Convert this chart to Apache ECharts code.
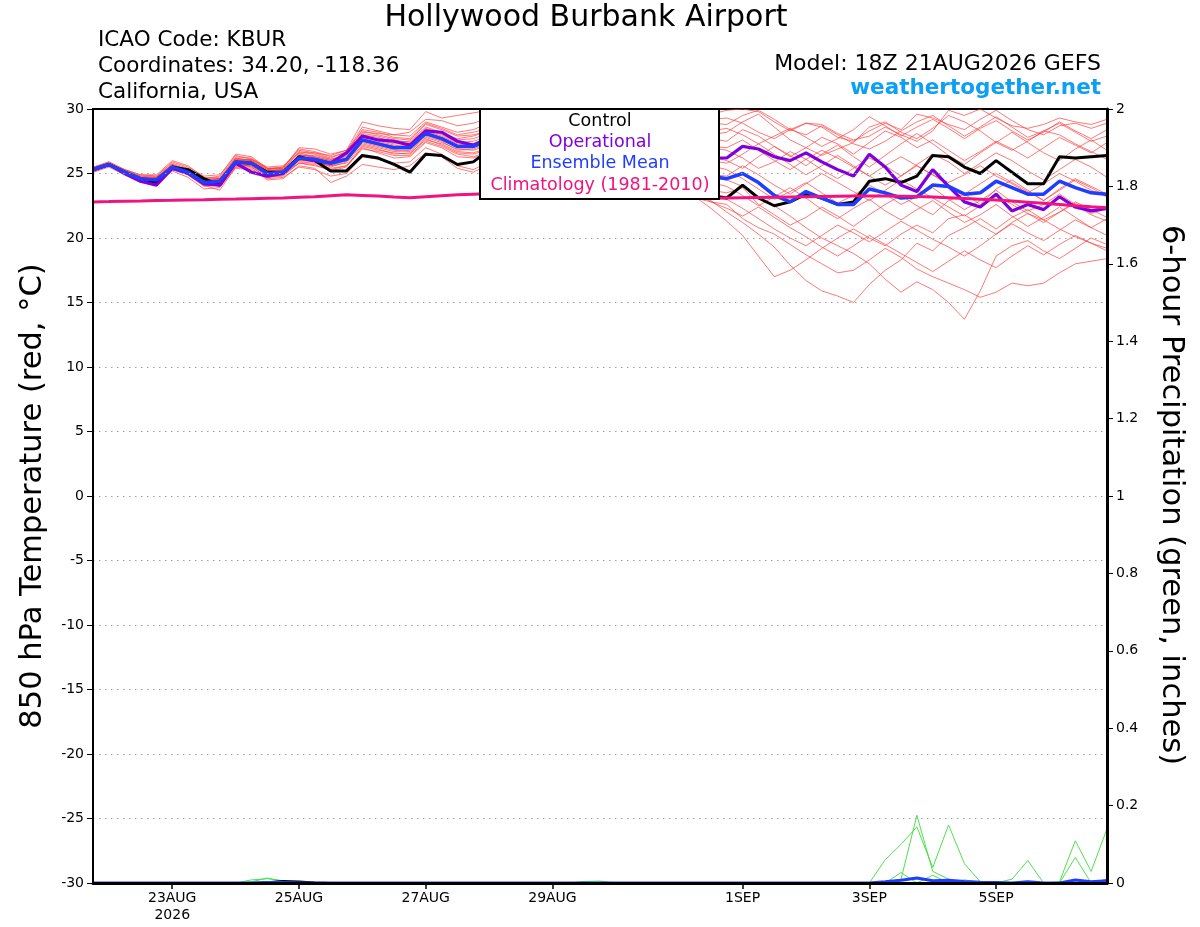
<!DOCTYPE html>
<html>
<head>
<meta charset="utf-8">
<script src="https://cdn.jsdelivr.net/npm/echarts@6.0.0/dist/echarts.min.js"></script>
<style>
html,body{margin:0;padding:0;background:#fff;}
#chart{width:1200px;height:927px;}
</style>
</head>
<body>
<div id="chart"></div>
<script>
// ---------- time categories (6-hourly, 18Z 21AUG2026 .. 18Z 06SEP2026) ----------
const startUTC = Date.UTC(2026, 7, 21, 18);
const categories = [];
for (let k = 0; k < 65; k++) {
  categories.push(new Date(startUTC + k * 6 * 3600 * 1000).toISOString().slice(0, 13) + 'Z');
}
const tickTimes  = ['2026-08-23T00Z','2026-08-25T00Z','2026-08-27T00Z','2026-08-29T00Z','2026-09-01T00Z','2026-09-03T00Z','2026-09-05T00Z'];
const tickLabels = ['23AUG\n2026','25AUG','27AUG','29AUG','1SEP','3SEP','5SEP'];

// ---------- 850 hPa temperature (deg C) ----------
const controlT = [25.3,25.7,25.1,24.6,24.3,25.5,25.3,24.6,24.1,25.9,25.8,25.1,25.1,
  26.3,26.0,25.2,25.2,26.4,26.2,25.7,25.1,26.5,26.4,25.7,25.9,
  26.8,27.0,26.3,26.0,26.6,26.7,26.0,25.5,25.8,25.2,24.8,24.2,24.3,23.8,23.3,
  23.1,24.1,23.1,22.5,22.8,23.4,23.1,22.6,22.8,24.4,24.6,24.3,24.8,26.4,26.3,25.5,25.0,26.0,25.1,24.2,24.2,26.3,26.2,26.3,26.4];
const operationalT = [25.3,25.7,25.0,24.4,24.1,25.4,25.0,24.2,24.1,25.8,25.1,24.8,25.0,
  26.2,26.0,25.8,26.6,27.9,27.6,27.5,27.2,28.3,28.2,27.5,27.2,
  27.8,28.2,27.6,27.2,27.9,28.0,27.4,27.2,27.6,27.3,26.9,26.6,26.8,26.5,26.2,
  26.2,27.1,26.9,26.3,26.0,26.6,25.9,25.3,24.8,26.5,25.5,24.1,23.6,25.3,24.0,22.8,22.4,23.4,22.1,22.6,22.2,23.2,22.4,22.1,22.3];
const ensMeanT = [25.3,25.7,25.1,24.6,24.5,25.5,25.1,24.3,24.4,25.9,25.8,25.0,25.1,
  26.2,26.1,25.8,26.1,27.6,27.3,27.0,27.0,28.1,27.7,27.1,27.1,
  27.6,27.9,27.4,27.0,27.5,27.6,27.0,26.6,26.8,26.6,26.0,25.6,25.7,25.3,24.8,
  24.6,25.0,24.3,23.3,22.8,23.6,23.1,22.6,22.6,23.8,23.5,23.1,23.2,24.1,24.0,23.4,23.5,24.4,23.9,23.4,23.4,24.4,23.9,23.5,23.4];
const climatologyT = [22.80,22.82,22.85,22.87,22.90,22.92,22.95,22.97,23.00,23.02,23.05,23.08,23.10,
  23.15,23.20,23.28,23.35,23.30,23.25,23.18,23.12,23.20,23.28,23.35,23.40,
  23.45,23.50,23.50,23.52,23.55,23.50,23.45,23.40,23.35,23.30,23.25,23.20,23.15,23.10,23.08,
  23.10,23.12,23.14,23.16,23.18,23.20,23.22,23.24,23.26,23.26,23.25,23.24,23.22,23.18,23.12,23.06,23.00,22.94,22.86,22.78,22.70,22.60,22.50,22.42,22.35];

const member01 = [25.4,25.9,25.3,24.8,24.8,25.8,25.4,24.6,24.7,26.3,26.2,25.4,25.5,
  26.8,26.6,26.2,26.7,28.6,28.3,28.0,27.9,29.0,28.6,28.2,28.4,
  28.9,29.3,28.8,28.4,29.0,29.4,28.9,28.5,29.1,29.5,29.0,28.7,29.3,29.8,29.6,
  29.9,30.0,29.8,29.0,28.3,28.9,28.6,27.8,27.5,28.3,28.9,28.4,29.6,29.3,28.8,28.4,29.2,29.9,29.1,28.4,28.0,28.7,28.9,28.5,28.9];
const member02 = [25.2,25.6,25.0,24.4,24.3,25.3,24.9,24.0,24.1,25.6,25.5,24.7,24.8,
  25.8,25.7,25.2,25.5,27.0,26.6,26.2,26.3,27.4,27.0,26.3,26.2,
  26.6,26.9,26.3,25.9,26.4,26.6,26.0,25.5,25.8,25.3,24.8,24.4,24.0,23.4,22.9,
  22.0,21.2,20.3,19.3,17.9,16.7,15.9,15.5,15.0,16.4,17.5,18.3,19.6,19.0,20.2,20.8,21.5,20.7,21.6,22.2,21.4,22.0,22.7,21.9,22.3];
const member03 = [25.3,25.8,25.2,24.7,24.6,25.6,25.2,24.4,24.5,26.0,25.9,25.2,25.3,
  26.4,26.3,26.0,26.4,28.0,27.8,27.4,27.5,28.6,28.2,27.6,27.7,
  28.1,28.4,27.8,27.5,28.0,28.3,27.7,27.3,27.9,28.2,27.6,27.4,27.9,28.3,28.0,
  28.2,29.0,29.6,28.6,27.6,27.0,26.4,26.9,27.4,28.6,29.0,28.2,27.7,28.5,29.5,29.0,28.3,27.4,26.8,27.5,28.3,28.0,27.3,26.7,26.1];
const member04 = [25.1,25.5,24.9,24.3,24.2,25.2,24.7,23.8,23.9,25.4,25.3,24.6,24.7,
  25.5,25.3,24.8,25.0,26.3,26.1,25.8,25.9,27.0,26.5,25.6,25.3,
  25.9,26.3,25.7,25.2,25.8,26.0,25.4,24.9,25.2,24.8,24.2,23.9,23.6,23.2,22.3,
  21.3,20.2,18.6,17.0,17.5,18.3,19.2,20.0,20.7,20.0,19.4,20.3,21.0,20.4,21.5,21.8,21.0,20.3,21.2,21.9,21.4,20.7,20.1,19.6,19.2];
const member05 = [25.5,25.9,25.3,24.9,24.9,26.0,25.6,24.7,24.6,26.1,26.0,25.3,25.4,
  27.0,26.9,26.5,26.8,29.0,28.7,28.5,28.4,29.8,29.3,29.5,29.7,
  29.9,29.7,29.2,28.8,29.4,29.8,29.1,28.6,29.0,29.3,28.8,28.5,29.0,29.4,29.2,
  29.3,28.9,28.2,27.7,28.4,28.9,28.8,28.1,27.6,27.9,28.6,28.0,27.5,28.3,29.9,29.5,30.0,29.3,28.7,28.5,28.8,29.3,29.0,28.8,29.2];
const member06 = [25.3,25.7,25.1,24.6,24.5,25.4,25.0,24.2,24.3,25.8,25.7,24.9,25.0,
  26.0,25.9,25.6,25.8,27.2,26.9,26.5,26.6,27.6,27.3,26.7,26.6,
  27.0,27.3,26.7,26.2,26.8,27.0,26.4,25.9,26.3,26.0,25.4,25.0,24.7,24.1,23.7,
  23.5,23.9,22.6,21.8,21.0,21.6,22.4,21.7,20.9,21.8,22.6,23.3,22.5,21.8,22.9,23.4,22.6,23.8,24.5,23.7,22.9,23.8,24.6,24.0,23.4];
const member07 = [25.2,25.6,25.1,24.7,24.6,25.7,25.3,24.5,24.6,26.0,26.1,25.5,25.6,
  26.6,26.6,26.4,26.8,28.3,28.0,27.7,27.6,28.8,28.4,27.9,28.0,
  28.3,28.6,28.0,27.6,28.1,28.5,27.9,27.5,27.9,28.2,27.7,27.2,27.7,28.0,27.7,
  27.5,28.4,27.9,27.1,26.3,27.0,27.8,27.3,26.5,27.4,28.3,27.8,27.0,27.6,26.8,26.0,26.7,27.5,26.9,26.2,27.0,27.8,27.2,26.6,27.4];
const member08 = [25.4,25.8,25.2,24.5,24.4,25.5,25.2,24.4,24.2,25.7,25.6,24.8,24.9,
  26.1,26.0,25.5,25.9,27.4,27.1,26.8,26.7,27.8,27.4,26.9,26.8,
  27.2,27.5,26.9,26.4,27.0,27.2,26.6,26.1,26.5,26.3,25.7,25.3,25.2,24.9,24.6,
  24.5,24.0,23.2,22.5,21.7,20.8,20.0,19.4,18.8,18.0,16.8,15.8,16.6,16.0,15.0,13.7,15.9,18.6,19.4,19.8,19.0,18.4,19.2,20.0,19.5];
const member09 = [25.3,25.7,25.0,24.5,24.7,25.7,25.2,24.3,24.5,26.2,26.0,25.1,25.0,
  26.5,26.2,25.9,26.2,27.8,27.6,27.3,27.3,28.4,28.0,27.4,27.5,
  27.9,28.2,27.6,27.2,27.7,28.0,27.4,26.9,27.3,27.6,27.0,26.6,27.1,27.4,27.0,
  26.8,26.2,25.4,25.9,26.7,26.1,25.3,24.6,25.4,26.2,25.6,24.8,25.7,26.5,25.9,25.0,25.8,26.6,26.0,25.2,24.5,25.3,26.1,25.5,24.7];
const member10 = [25.2,25.6,25.2,24.8,24.7,25.6,25.1,24.1,23.7,25.5,25.4,24.5,24.6,
  25.6,25.4,24.3,24.8,25.7,25.5,25.3,25.6,26.6,26.3,25.4,25.1,
  25.7,26.1,25.5,25.0,25.6,25.8,25.2,24.6,24.9,24.5,24.0,23.7,23.4,23.1,22.8,
  22.6,21.5,20.8,20.3,19.5,18.7,18.0,17.3,17.5,18.3,19.2,18.5,17.6,17.0,16.5,16.0,15.4,15.8,16.5,16.3,16.5,17.3,18.0,18.2,18.4];
const member11 = [25.4,25.8,25.1,24.6,24.4,25.4,25.3,24.6,24.8,26.5,26.3,25.4,25.3,
  26.7,26.5,26.1,26.5,28.2,28.1,28.0,28.2,29.2,29.1,28.7,28.9,
  29.3,29.6,29.0,28.6,29.2,29.5,28.9,28.4,28.8,29.1,28.6,28.2,28.7,29.0,28.9,
  28.8,29.5,29.9,29.2,28.4,28.0,28.7,28.0,27.3,26.9,27.5,28.3,29.0,29.5,28.7,27.9,28.6,29.4,28.6,27.8,28.3,28.9,28.2,27.5,27.9];
const member12 = [25.3,25.7,25.2,24.6,24.6,25.6,25.0,24.3,24.4,25.9,25.9,25.2,25.2,
  26.2,26.1,25.8,26.0,27.5,27.2,26.9,27.0,28.0,27.6,27.0,27.0,
  27.4,27.7,27.1,26.7,27.2,27.4,26.8,26.3,26.7,26.9,26.3,25.9,26.2,26.0,25.6,
  25.3,24.6,23.8,23.0,23.6,24.3,23.5,22.7,23.3,24.1,23.4,22.6,23.2,23.9,23.0,22.2,22.9,23.7,22.8,22.1,22.6,23.4,22.6,21.8,21.3];
const member13 = [25.2,25.7,25.3,24.9,24.8,25.9,25.5,24.8,24.9,26.4,26.1,25.3,25.5,
  26.9,26.7,26.3,26.6,28.4,28.2,27.8,27.7,28.9,28.5,28.0,28.2,
  28.5,28.8,28.2,27.8,28.3,28.6,28.0,27.5,27.8,27.9,27.3,26.9,27.0,26.7,26.3,
  26.0,25.4,26.3,27.1,26.4,25.6,26.5,27.2,26.3,25.5,26.4,27.3,28.1,27.3,26.4,25.7,26.6,27.4,28.2,27.4,26.6,26.0,26.9,27.6,26.8];
const member14 = [25.4,25.6,25.0,24.4,24.3,25.3,25.0,24.2,24.0,25.5,25.7,25.0,24.9,
  25.9,25.8,25.4,25.6,26.9,26.7,26.4,26.4,27.5,27.1,26.5,26.3,
  26.7,27.0,26.4,26.0,26.5,26.7,26.1,25.6,25.9,25.6,25.0,24.6,24.2,23.6,23.2,
  23.0,22.3,21.5,20.7,20.0,19.4,20.2,21.0,20.4,19.7,20.5,21.3,20.6,19.9,19.3,18.6,19.4,20.3,21.1,20.4,19.8,20.6,21.4,20.8,20.2];
const member15 = [25.3,25.8,25.1,24.5,24.5,25.5,25.2,24.5,24.6,26.0,25.6,24.9,25.1,
  26.3,26.2,25.9,26.2,27.7,27.4,27.1,27.1,28.2,27.8,27.2,27.3,
  27.7,28.0,27.4,27.0,27.5,27.8,27.2,26.8,27.2,27.5,27.0,26.7,27.2,27.4,27.1,
  27.0,27.6,26.8,26.0,25.3,26.1,26.8,26.2,25.5,24.8,25.6,26.3,25.6,24.9,24.3,24.9,25.6,24.8,24.2,23.5,24.2,25.0,24.4,23.7,23.2];
const member16 = [25.1,25.6,25.0,24.6,24.6,25.5,24.9,24.1,24.3,25.7,25.8,25.1,25.2,
  26.0,26.1,25.7,26.1,27.6,27.3,27.1,27.2,28.3,27.9,27.3,27.3,
  27.7,28.0,27.4,27.0,27.5,27.7,27.1,26.6,26.9,26.6,26.0,25.6,25.3,24.8,24.3,
  24.0,23.3,22.5,23.2,23.9,23.1,22.2,21.5,22.3,23.0,22.1,21.4,22.2,22.9,22.0,21.2,21.8,22.6,21.7,20.9,21.6,22.4,21.6,20.8,21.5];
const member17 = [25.5,25.8,25.2,24.7,24.5,25.4,25.1,24.4,24.6,26.2,26.0,25.2,25.3,
  26.4,26.4,26.1,26.3,27.9,27.5,27.2,27.0,28.1,27.6,27.1,27.2,
  27.6,27.9,27.3,26.9,27.4,27.7,27.1,26.6,27.0,27.2,26.6,26.3,26.6,26.3,26.0,
  25.8,26.5,27.3,26.5,25.7,24.9,25.6,26.4,25.6,24.8,24.1,24.8,25.6,24.9,24.1,23.4,24.2,25.0,24.3,23.6,22.9,23.7,24.5,23.9,23.2];
const member18 = [25.3,25.6,25.1,24.5,24.4,25.5,25.3,24.5,24.3,25.8,25.5,24.7,24.9,
  25.8,25.6,25.3,25.6,27.1,26.8,26.6,26.5,27.7,27.2,26.6,26.5,
  26.9,27.2,26.6,26.2,26.7,26.9,26.3,25.8,26.0,25.6,25.0,24.5,24.1,23.5,22.8,
  22.3,21.7,22.4,21.6,20.8,20.1,19.3,18.6,19.4,20.2,19.5,18.8,18.1,17.4,18.2,19.0,18.3,17.7,18.6,19.4,18.7,19.5,20.2,19.6,19.0];
const member19 = [25.2,25.7,25.2,24.7,24.7,25.7,25.2,24.2,24.2,25.9,26.1,25.4,25.4,
  26.6,26.3,26.0,26.5,28.1,27.9,27.6,27.4,28.5,28.1,27.7,27.9,
  28.3,28.6,28.0,27.6,28.1,28.4,27.8,27.4,27.9,28.3,27.8,27.5,28.1,28.5,28.3,
  28.5,28.0,27.3,27.9,28.5,27.8,27.1,27.7,28.4,29.4,28.7,27.9,28.6,29.2,28.5,27.7,28.5,29.1,28.3,27.6,28.2,29.0,28.3,27.7,28.4];
const member20 = [25.4,25.7,25.0,24.5,24.6,25.6,25.1,24.3,24.5,26.1,25.9,25.0,25.0,
  26.1,25.9,25.6,26.0,27.3,27.0,26.7,26.8,27.9,27.5,26.8,26.9,
  27.3,27.6,27.0,26.6,27.1,27.3,26.7,26.2,26.5,26.3,25.7,25.3,25.4,25.1,24.9,
  24.8,25.6,24.9,24.1,23.4,24.2,25.0,24.3,23.6,22.9,23.7,24.5,23.8,23.1,22.4,21.7,22.5,23.3,22.6,21.9,21.2,22.0,22.8,22.2,21.6];
const membersT = [member01,member02,member03,member04,member05,member06,member07,member08,member09,member10,
                  member11,member12,member13,member14,member15,member16,member17,member18,member19,member20];

// ---------- 6-hour precipitation (inches) ----------
const precipG1 = [0,0,0,0,0,0,0,0,0,0,0,0,0, 0,0,0,0,0,0,0,0,0,0,0,0,0, 0,0,0,0,0,0,0,0,0,0,0,0,0,
  0,0,0,0,0,0,0,0,0,0,0,0.06,0.10, 0.145,0.04,0.15,0.05,0.003,0,0,0,0,0,0,0,0];
const precipG2 = [0,0,0,0,0,0,0,0,0,0,0,0,0, 0,0,0,0,0,0,0,0,0,0,0,0,0, 0,0,0,0,0,0,0,0,0,0,0,0,0,
  0,0,0,0,0,0,0,0,0,0,0,0,0.01, 0.175,0.03,0.01,0,0,0,0,0,0,0,0,0,0];
const precipG3 = [0,0,0,0,0,0,0,0,0,0,0,0,0, 0,0,0,0,0,0,0,0,0,0,0,0,0, 0,0,0,0,0,0,0,0,0,0,0,0,0,
  0,0,0,0,0,0,0,0,0,0,0,0,0.027, 0,0.02,0,0.008,0.002,0,0,0,0,0,0,0,0];
const precipG4 = [0,0,0,0,0,0,0,0,0,0,0,0,0, 0,0,0,0,0,0,0,0,0,0,0,0,0, 0,0,0,0,0,0,0,0,0,0,0,0,0,
  0,0,0,0,0,0,0,0,0,0,0,0,0, 0,0,0,0,0,0,0.01,0.058,0,0.003,0.109,0.03,0.14];
const precipG5 = [0,0,0,0,0,0,0,0,0,0,0,0,0, 0,0,0,0,0,0,0,0,0,0,0,0,0, 0,0,0,0,0,0,0,0,0,0,0,0,0,
  0,0,0,0,0,0,0,0,0,0,0,0,0, 0,0,0,0,0,0,0,0,0,0,0.066,0,0.01];
const precipG6 = [0,0,0,0,0,0,0,0,0,0,0.008,0.011,0.006, 0,0,0,0,0,0,0,0,0,0,0,0,0, 0,0,0,0,0,0.004,0.005,0,0,0,0,0,0,
  0,0,0,0,0,0,0,0,0,0,0,0,0, 0,0,0,0,0,0,0,0,0,0,0,0,0];
const precipG7 = [0,0,0,0,0,0,0,0,0,0,0.003,0.013,0.004, 0,0,0,0,0,0,0,0,0,0,0,0,0, 0,0,0,0,0,0,0,0,0,0,0,0,0,
  0,0,0,0,0,0,0,0,0,0,0,0,0, 0,0,0,0,0,0,0,0,0,0,0,0,0];
const precipMembers = [precipG1,precipG2,precipG3,precipG4,precipG5,precipG6,precipG7];
const precipControl = [0,0,0,0,0,0,0,0,0,0,0,0.002,0.005, 0.004,0.001,0,0,0,0,0,0,0,0,0,0,0, 0,0,0,0,0,0,0,0,0,0,0,0,0,
  0,0,0,0,0,0,0,0,0,0,0,0,0, 0,0,0,0,0,0,0,0,0,0,0,0,0];
const precipMean = [0,0,0,0,0,0,0,0,0,0,0,0.001,0.001, 0,0,0,0,0,0,0,0,0,0,0,0,0, 0,0,0,0,0,0,0,0,0,0,0,0,0,
  0,0,0,0,0,0,0,0,0,0,0,0.003,0.007, 0.013,0.006,0.007,0.004,0.002,0.001,0,0.003,0,0,0.008,0.003,0.006];

// ---------- texts ----------
const titleText = 'Hollywood Burbank Airport';
const infoLeft = ['ICAO Code: KBUR', 'Coordinates: 34.20, -118.36', 'California, USA'];
const modelText = 'Model: 18Z 21AUG2026 GEFS';
const siteText = 'weathertogether.net';
const legendItems = [
  {name: 'Control', color: '#000000'},
  {name: 'Operational', color: '#8000dc'},
  {name: 'Ensemble Mean', color: '#1f3dff'},
  {name: 'Climatology (1981-2010)', color: '#f01480'}
];
const leftAxisName = '850 hPa Temperature (red, \u00B0C)';
const rightAxisName = '6-hour Precipitation (green, inches)';

// ---------- chart ----------
const FONT = '"DejaVu Sans", "Liberation Sans", sans-serif';
const chart = echarts.init(document.getElementById('chart'), null, {renderer: 'canvas'});

const series = [];
membersT.forEach((d, k) => series.push({
  name: 'member' + (k + 1), type: 'line', data: d, yAxisIndex: 0, symbol: 'none', silent: true, z: 2,
  lineStyle: {color: 'rgba(255,55,55,0.85)', width: 0.8}
}));
precipMembers.forEach((d, k) => series.push({
  name: 'precip' + (k + 1), type: 'line', data: d, yAxisIndex: 1, symbol: 'none', silent: true, z: 2,
  lineStyle: {color: '#3cdc3c', width: 0.9}
}));
series.push({name: 'precipControl', type: 'line', data: precipControl, yAxisIndex: 1, symbol: 'none', z: 3,
  lineStyle: {color: '#000', width: 2}});
series.push({name: 'precipMean', type: 'line', data: precipMean, yAxisIndex: 1, symbol: 'none', z: 4,
  lineStyle: {color: '#1f3dff', width: 3}});
series.push({name: 'Control', type: 'line', data: controlT, yAxisIndex: 0, symbol: 'none', z: 3,
  lineStyle: {color: '#000', width: 3}});
series.push({name: 'Operational', type: 'line', data: operationalT, yAxisIndex: 0, symbol: 'none', z: 4,
  lineStyle: {color: '#8000dc', width: 3.2}});
series.push({name: 'Ensemble Mean', type: 'line', data: ensMeanT, yAxisIndex: 0, symbol: 'none', z: 5,
  lineStyle: {color: '#1f3dff', width: 3.5}});
series.push({name: 'Climatology', type: 'line', data: climatologyT, yAxisIndex: 0, symbol: 'none', z: 6,
  lineStyle: {color: '#f01480', width: 3}});

const graphics = [
  {type: 'text', x: 586, y: 18, z: 100, style: {text: titleText, font: '30px ' + FONT, fill: '#000', textAlign: 'center', textVerticalAlign: 'middle'}},
  {type: 'text', x: 98, y: 40, z: 100, style: {text: infoLeft[0], font: '21.5px ' + FONT, fill: '#000', textAlign: 'left', textVerticalAlign: 'middle'}},
  {type: 'text', x: 98, y: 66, z: 100, style: {text: infoLeft[1], font: '21.5px ' + FONT, fill: '#000', textAlign: 'left', textVerticalAlign: 'middle'}},
  {type: 'text', x: 98, y: 92, z: 100, style: {text: infoLeft[2], font: '21.5px ' + FONT, fill: '#000', textAlign: 'left', textVerticalAlign: 'middle'}},
  {type: 'text', x: 1101, y: 64, z: 100, style: {text: modelText, font: '22px ' + FONT, fill: '#000', textAlign: 'right', textVerticalAlign: 'middle'}},
  {type: 'text', x: 1101, y: 88, z: 100, style: {text: siteText, font: 'bold 21.5px ' + FONT, fill: '#0c9ff2', textAlign: 'right', textVerticalAlign: 'middle'}},
  {type: 'text', x: 33, y: 496, rotation: Math.PI / 2, z: 100, style: {text: leftAxisName, font: '30.5px ' + FONT, fill: '#000', textAlign: 'center', textVerticalAlign: 'middle'}},
  {type: 'text', x: 1171, y: 495, rotation: -Math.PI / 2, z: 100, style: {text: rightAxisName, font: '30.5px ' + FONT, fill: '#000', textAlign: 'center', textVerticalAlign: 'middle'}},
  {type: 'rect', z: 100, shape: {x: 480, y: 109, width: 239, height: 90}, style: {fill: '#fff', stroke: '#000', lineWidth: 2}}
];
const legendY = [121, 142, 163, 185];
legendItems.forEach((it, k) => graphics.push({
  type: 'text', x: 600, y: legendY[k], z: 101,
  style: {text: it.name, font: '17.5px ' + FONT, fill: it.color, textAlign: 'center', textVerticalAlign: 'middle'}
}));

const option = {
  animation: false,
  backgroundColor: '#fff',
  grid: {left: 93, right: 93, top: 109, bottom: 44, show: true, borderColor: '#000', borderWidth: 2, containLabel: false},
  xAxis: {
    type: 'category', data: categories, boundaryGap: false, z: 8,
    axisLine: {onZero: false, lineStyle: {color: '#000', width: 3}},
    axisTick: {show: true, length: 6, lineStyle: {color: '#000', width: 1.5},
      interval: (i, v) => tickTimes.indexOf(v) >= 0},
    axisLabel: {interval: (i, v) => tickTimes.indexOf(v) >= 0,
      formatter: v => { const k = tickTimes.indexOf(v); return k >= 0 ? tickLabels[k] : ''; },
      color: '#000', fontSize: 14, fontFamily: FONT, lineHeight: 17, margin: 7},
    splitLine: {show: false}
  },
  yAxis: [
    {type: 'value', min: -30, max: 30, interval: 5, position: 'left', z: 8,
      axisLine: {show: true, onZero: false, lineStyle: {color: '#000', width: 2}},
      axisTick: {show: true, length: 6, lineStyle: {color: '#000', width: 1}},
      axisLabel: {color: '#000', fontSize: 14, fontFamily: FONT, margin: 9},
      splitLine: {show: true, showMinLine: false, showMaxLine: false,
        lineStyle: {color: '#a0a0a0', width: 1, type: [1.5, 4.5]}}
    },
    {type: 'value', min: 0, max: 2, interval: 0.2, position: 'right', z: 8,
      axisLine: {show: true, onZero: false, lineStyle: {color: '#000', width: 3}},
      axisTick: {show: true, length: 6, lineStyle: {color: '#000', width: 1}},
      axisLabel: {color: '#000', fontSize: 14, fontFamily: FONT, margin: 9,
        formatter: v => String(Math.round(v * 10) / 10)},
      splitLine: {show: false}
    }
  ],
  graphic: graphics,
  series: series
};
chart.setOption(option);
</script>
</body>
</html>
